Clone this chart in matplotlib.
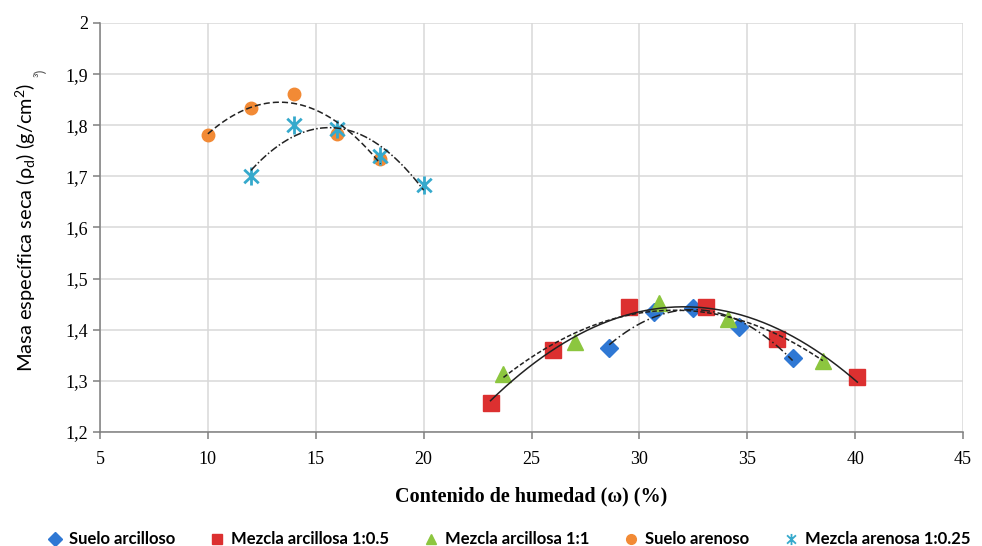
import numpy as np
import matplotlib.pyplot as plt
from matplotlib.lines import Line2D
from matplotlib.path import Path

# Data
w_arcilloso = [28.6, 30.7, 32.5, 34.6, 37.1]
d_arcilloso = [1.365, 1.435, 1.443, 1.405, 1.345]

w_mezcla_05 = [23.1, 26.0, 29.5, 33.1, 36.4, 40.1]
d_mezcla_05 = [1.257, 1.360, 1.444, 1.444, 1.381, 1.308]

w_mezcla_1 = [23.7, 27.0, 30.9, 34.1, 38.5]
d_mezcla_1 = [1.313, 1.377, 1.452, 1.421, 1.339]

w_arenoso = [10, 12, 14, 16, 18]
d_arenoso = [1.781, 1.833, 1.862, 1.782, 1.733]

w_arenosa_025 = [12, 14, 16, 18, 20]
d_arenosa_025 = [1.701, 1.801, 1.792, 1.740, 1.683]

# star marker: vertical bar plus an X, like the spreadsheet one
star = Path([(0, -1), (0, 1), (-0.8, -0.75), (0.8, 0.75), (-0.8, 0.75), (0.8, -0.75)],
            [Path.MOVETO, Path.LINETO, Path.MOVETO, Path.LINETO, Path.MOVETO, Path.LINETO])

series = [
    ("Suelo arcilloso", w_arcilloso, d_arcilloso, "D", "#2f78d4", 9, (0, (6, 2, 1, 2))),
    ("Mezcla arcillosa 1:0.5", w_mezcla_05, d_mezcla_05, "s", "#dc3030", 12, "-"),
    ("Mezcla arcillosa 1:1", w_mezcla_1, d_mezcla_1, "^", "#8cc63f", 12, (0, (3, 1.5))),
    ("Suelo arenoso", w_arenoso, d_arenoso, "o", "#f28a35", 9, (0, (4, 2))),
    ("Mezcla arenosa 1:0.25", w_arenosa_025, d_arenosa_025, star, "#35a9cc", 13, (0, (5, 1.5, 1, 1.5))),
]

fig = plt.figure(figsize=(9.82, 5.46), dpi=100)
ax = fig.add_axes([0.1018, 0.2088, 0.8789, 0.7491])

handles = []
for name, x, y, mk, col, ms, ls in series:
    x = np.array(x)
    y = np.array(y)
    # quadratic trend line like the spreadsheet's polynomial trend
    c = np.polyfit(x, y, 2)
    xs = np.linspace(x.min(), x.max(), 200)
    ax.plot(xs, np.polyval(c, xs), color="#222222", lw=1.1, linestyle=ls, zorder=4)
    if mk is star:
        ax.plot(x, y, linestyle="none", marker=mk, markersize=ms, color=col,
                markeredgewidth=2.0, zorder=3)
        h = Line2D([], [], linestyle="none", marker=mk, markersize=8, color=col, markeredgewidth=1.3)
    else:
        ax.plot(x, y, linestyle="none", marker=mk, markersize=ms, color=col,
                markeredgecolor=col, zorder=3)
        h = Line2D([], [], linestyle="none", marker=mk, markersize=7, color=col)
    handles.append((h, name))

ax.set_xlim(5, 45)
ax.set_ylim(1.2, 2.0)
xticks = [5, 10, 15, 20, 25, 30, 35, 40, 45]
yticks = [1.2, 1.3, 1.4, 1.5, 1.6, 1.7, 1.8, 1.9, 2.0]
ytick_labels = ["1,2", "1,3", "1,4", "1,5", "1,6", "1,7", "1,8", "1,9", "2"]
ax.set_xticks(xticks)
ax.set_xticklabels([str(t) for t in xticks], fontfamily="Liberation Serif", fontsize=13)
ax.set_yticks(yticks)
ax.set_yticklabels(ytick_labels, fontfamily="Liberation Serif", fontsize=13)
ax.grid(True, color="#d9d9d9", lw=1.1)
ax.set_axisbelow(True)
for s in ["top", "right"]:
    ax.spines[s].set_visible(False)
for s in ["left", "bottom"]:
    ax.spines[s].set_color("#7f7f7f")
    ax.spines[s].set_linewidth(1.1)
ax.tick_params(axis="both", color="#7f7f7f", length=5, width=1.1, direction="out")
ax.tick_params(axis="x", pad=9)

ax.set_xlabel("Contenido de humedad (ω) (%)", fontfamily="Liberation Serif",
              fontweight="bold", fontsize=14.5, labelpad=13)
plt.rcParams["mathtext.default"] = "regular"
ax.set_ylabel("Masa específica seca (ρ$_{d}$) (g/cm$^{2}$)", fontfamily="Lato",
              fontsize=14.4, labelpad=20)
fig.text(0.041, 0.866, "³)", rotation=90, color="#555555", fontsize=10,
         fontfamily="Lato", ha="center", va="center")

fig.legend([h for h, _ in handles], [n for _, n in handles], loc="lower center",
           bbox_to_anchor=(0.517, -0.03), ncol=5, frameon=False,
           prop={"family": "Lato", "weight": "bold", "size": 12},
           handletextpad=0.25, columnspacing=1.9, handlelength=1.2)

fig.savefig("out.png", dpi=100)
